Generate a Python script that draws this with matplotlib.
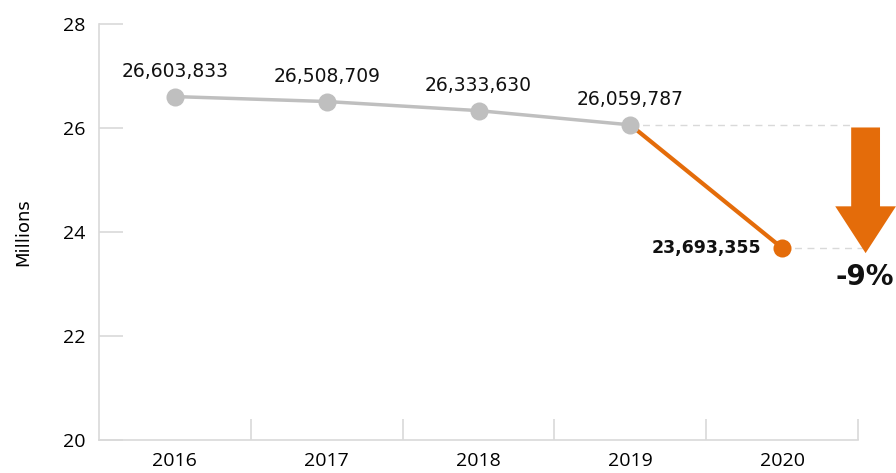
import numpy as np
import matplotlib
matplotlib.use("Agg")
from matplotlib import pyplot as plt
from matplotlib.patches import FancyArrow

years = ["2016", "2017", "2018", "2019", "2020"]
passengers = [26603833, 26508709, 26333630, 26059787, 23693355]
yticks = [20, 22, 24, 26, 28]
change_label = "-9%"

gray = "#bfbfbf"
orange = "#e46c0a"
axis_gray = "#d9d9d9"

plt.rcParams['font.family'] = ['Open Sans', 'DejaVu Sans']

fig = plt.figure(figsize=(8.96, 4.73), dpi=100)
ax = fig.add_axes([0.1105, 0.0698, 0.8471, 0.8795])

x = np.arange(len(years))
vals = np.array(passengers) / 1e6

# grey history, orange last step
ax.plot(x[:4], vals[:4], color=gray, lw=2.5, marker="o", ms=13,
        markeredgewidth=0, zorder=3)
ax.plot(x[3:], vals[3:], color=orange, lw=3, zorder=2)
ax.plot(x[4], vals[4], marker="o", ms=13, color=orange,
        markeredgewidth=0, zorder=3)

for i in range(4):
    ax.annotate("{:,}".format(passengers[i]), (x[i], vals[i]),
                xytext=(0, 18), textcoords="offset points",
                ha="center", va="center", fontsize=13.5, color="#111111",
                family="DejaVu Sans")
ax.annotate("{:,}".format(passengers[4]), (x[4], vals[4]),
            xytext=(-15, 0), textcoords="offset points",
            ha="right", va="center", fontsize=12.5, fontweight="bold",
            color="#111111", family="DejaVu Sans")

# dashed guide lines
ax.plot([x[3], 4.45], [vals[3], vals[3]], ls=(0, (5, 4)), color=axis_gray,
        lw=1, zorder=1, clip_on=False)
ax.plot([x[4], 4.55], [vals[4], vals[4]], ls=(0, (5, 4)), color=axis_gray,
        lw=1, zorder=1, clip_on=False)

# big down arrow
arr = FancyArrow(4.55, vals[3] - 0.05, 0, vals[4] - vals[3] - 0.05,
                 width=0.19, head_width=0.40, head_length=0.9,
                 length_includes_head=True, color=orange, lw=0,
                 clip_on=False, zorder=4)
ax.add_patch(arr)
ax.text(4.735, vals[4] - 0.56, change_label, ha="right", va="center",
        fontsize=20, fontweight="bold", color="#111111", clip_on=False,
        family="DejaVu Sans")

ax.set_xlim(-0.5, 4.5)
ax.set_ylim(20, 28)
ax.set_yticks(yticks)
ax.set_xticks(x)
ax.set_xticklabels(years)
ax.set_xticks(np.arange(0.5, 5, 1), minor=True)
ax.tick_params(axis="x", which="major", length=0, pad=9, labelsize=14)
ax.tick_params(axis="x", which="minor", length=15, direction="in",
               color=axis_gray, width=1.2)
ax.tick_params(axis="y", length=17, direction="in", color=axis_gray,
               width=1.2, pad=10, labelsize=14)
for side in ["top", "right"]:
    ax.spines[side].set_visible(False)
for side in ["left", "bottom"]:
    ax.spines[side].set_color(axis_gray)
    ax.spines[side].set_linewidth(1.2)

ax.set_ylabel("Millions", fontsize=13, family="Liberation Sans Narrow",
              labelpad=22)

fig.savefig("out.png", dpi=100)
